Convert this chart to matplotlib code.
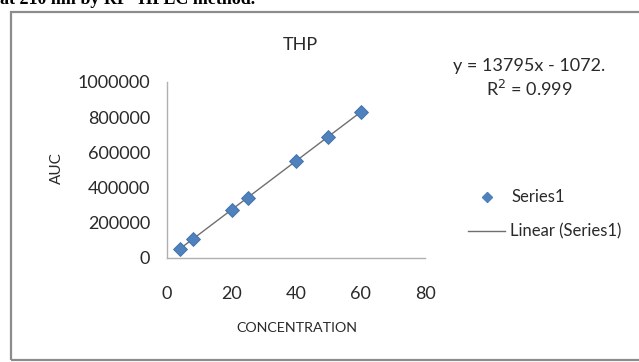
import numpy as np
import matplotlib
matplotlib.use("Agg")
import matplotlib.pyplot as plt
from matplotlib.patches import Rectangle
from matplotlib.lines import Line2D

conc = [4, 8, 20, 25, 40, 50, 60]
auc = [53000, 109000, 273000, 342000, 549000, 690000, 830000]
x_ticks = [0, 20, 40, 60, 80]
y_ticks = [0, 200000, 400000, 600000, 800000, 1000000]

plt.rcParams['font.family'] = ['Lato', 'DejaVu Sans']

fig = plt.figure(figsize=(6.39, 3.62), dpi=100)

# cut-off caption line at the very top
fig.text(0.0, 1 - 4 / 362, "at 210 nm by RP- HPLC method.", family='Liberation Serif',
         fontweight='bold', fontsize=13, va='baseline', ha='left')

# chart frame
fig.patches.append(Rectangle((11 / 639, 2 / 362), 1.2, 348 / 362, transform=fig.transFigure,
                             fill=False, edgecolor='#8c8c8c', linewidth=1.6))

ax = fig.add_axes([167 / 639, 1 - 258 / 362, (425 - 167) / 639, (258 - 82) / 362])
blue = '#4f81bd'
ax.plot(conc, auc, linestyle='none', marker='D', markersize=7, color=blue,
        markeredgecolor='#3f6fa8', markeredgewidth=0.6, zorder=3)

slope, icpt = np.polyfit(conc, auc, 1)
xs = np.array([min(conc), max(conc)])
ax.plot(xs, slope * xs + icpt, color='#6f6f6f', linewidth=1.0, zorder=2)

ax.set_xlim(0, 80)
ax.set_ylim(0, 1000000)
ax.set_xticks(x_ticks)
ax.set_yticks(y_ticks)
ax.set_yticklabels([str(v) for v in y_ticks])
ax.tick_params(length=0, labelsize=13, colors='#2a2a2a')
ax.tick_params(axis='x', pad=20)
ax.tick_params(axis='y', pad=12)
for s in ['top', 'right']:
    ax.spines[s].set_visible(False)
for s in ['left', 'bottom']:
    ax.spines[s].set_color('#b0b0b0')
    ax.spines[s].set_linewidth(1.0)

txt = '#2a2a2a'
fig.text(300 / 639, 1 - 45 / 362, "THP", fontsize=13, ha='center', va='center', color=txt)
fig.text(57 / 639, 1 - 168 / 362, "AUC", fontsize=11, rotation=90, ha='center', va='center', color=txt)
fig.text(297 / 639, 1 - 328 / 362, "CONCENTRATION", fontsize=10.3, ha='center', va='center', color=txt)

fig.text(529 / 639, 1 - 66 / 362, "y = 13795x - 1072.", fontsize=13, ha='center', va='center', color=txt)
fig.text(529 / 639, 1 - 89 / 362, "R$^2$ = 0.999", fontsize=13, ha='center', va='center', color=txt)

# legend
fig.lines.append(Line2D([487 / 639], [1 - 197 / 362], transform=fig.transFigure, marker='D',
                        markersize=5.5, color=blue, linestyle='none'))
fig.text(512 / 639, 1 - 197 / 362, "Series1", fontsize=12, ha='left', va='center', color=txt)
fig.lines.append(Line2D([468 / 639, 505 / 639], [1 - 231 / 362] * 2, transform=fig.transFigure,
                        color='#6f6f6f', linewidth=1.0))
fig.text(510 / 639, 1 - 231 / 362, "Linear (Series1)", fontsize=12, ha='left', va='center', color=txt)

fig.savefig("out.png", dpi=100)
